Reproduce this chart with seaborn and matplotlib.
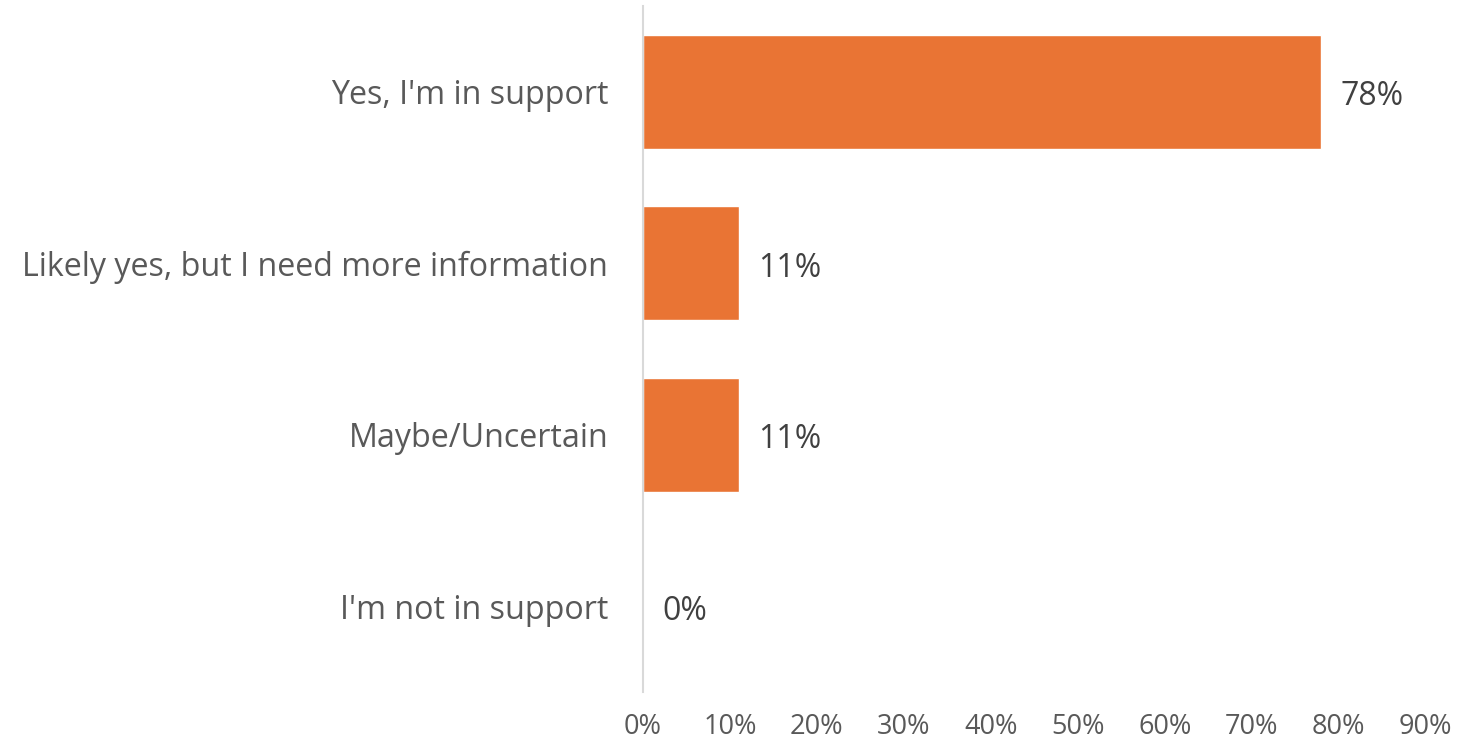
import matplotlib
matplotlib.use("Agg")
import matplotlib.pyplot as plt
import seaborn as sns
import pandas as pd

categories = ["Yes, I'm in support",
              "Likely yes, but I need more information",
              "Maybe/Uncertain",
              "I'm not in support"]
shares = [78, 11, 11, 0]
tick_values = [0, 10, 20, 30, 40, 50, 60, 70, 80, 90]
tick_labels = [f"{v}%" for v in tick_values]

sns.set_style("white")
plt.rcParams["font.family"] = ["Open Sans", "DejaVu Sans"]

df = pd.DataFrame({"category": categories, "share": shares})

fig = plt.figure(figsize=(14.6, 7.45), dpi=100)
ax = fig.add_axes([0.4404, 0.071, 0.536, 0.921])

text_color = "#595959"
bar_color = "#E97434"

sns.barplot(data=df, x="share", y="category", orient="h", color=bar_color,
            width=0.665, saturation=1, ax=ax)

for i, v in enumerate(shares):
    ax.text(v + 2.2, i + 0.03, f"{v}%", va="center", ha="left",
            fontsize=23, color="#404040")

ax.set_xlim(0, 90)
ax.set_ylim(3.5, -0.5)
ax.set_xticks(tick_values)
ax.set_xticklabels(tick_labels)
ax.tick_params(axis="x", length=0, pad=15, labelsize=19.5, labelcolor=text_color)
ax.tick_params(axis="y", length=0, pad=25, labelsize=23.2, labelcolor=text_color)
ax.set_xlabel("")
ax.set_ylabel("")

for side in ["top", "right", "bottom"]:
    ax.spines[side].set_visible(False)
ax.spines["left"].set_color("#D9D9D9")
ax.spines["left"].set_linewidth(1.5)

fig.savefig("out.png", dpi=100, facecolor="white")
